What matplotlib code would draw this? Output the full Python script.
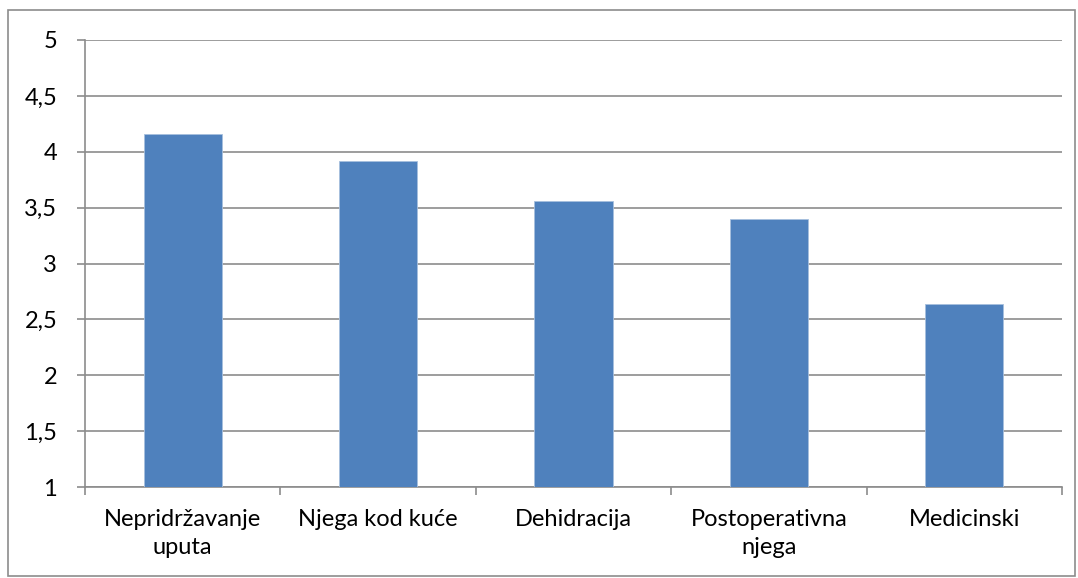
"""Bar chart: average scores per category."""

import matplotlib

matplotlib.use("Agg")
import matplotlib.pyplot as plt
from matplotlib.patches import Rectangle
from matplotlib.ticker import FixedLocator, FuncFormatter

categories = ["Nepridržavanje\nuputa", "Njega kod kuće", "Dehidracija", "Postoperativna\nnjega", "Medicinski"]
values = [4.16, 3.92, 3.56, 3.40, 2.64]
y_ticks = [1, 1.5, 2, 2.5, 3, 3.5, 4, 4.5, 5]

GRID = "#8c8c8c"
BAR = "#4f81bd"

plt.rcParams["font.family"] = ["Lato", "DejaVu Sans"]

fig = plt.figure(figsize=(10.78, 5.78), dpi=100)
fig.patches.append(Rectangle((8 / 1078, 2 / 578), 1067 / 1078, 566 / 578, transform=fig.transFigure,
                             fill=False, edgecolor=GRID, linewidth=1.2))
ax = fig.add_axes([85 / 1078, 1 - 487 / 578, (1062 - 85) / 1078, (487 - 40) / 578])

x = list(range(len(categories)))
ax.bar(x, values, width=0.4, color=BAR, edgecolor="#a7c0de", linewidth=0.6, zorder=3)
ax.set_ylim(1, 5)
ax.set_xlim(-0.5, len(categories) - 0.5)
ax.set_yticks(y_ticks)
ax.yaxis.set_major_formatter(FuncFormatter(lambda v, _: f"{v:g}".replace(".", ",")))
ax.set_xticks(x)
ax.set_xticklabels(categories)
ax.xaxis.set_minor_locator(FixedLocator([i - 0.5 for i in range(len(categories) + 1)]))
ax.tick_params(axis="x", which="major", length=0, pad=16, labelsize=17)
ax.tick_params(axis="x", which="minor", length=6, color=GRID, width=1.2)
ax.tick_params(axis="y", length=6, color=GRID, width=1.2, labelsize=17, pad=14)
ax.grid(axis="y", color=GRID, linewidth=1.2, zorder=0)
for side in ("top", "right"):
    ax.spines[side].set_visible(False)
for side in ("left", "bottom"):
    ax.spines[side].set_color(GRID)
    ax.spines[side].set_linewidth(1.2)
for label in ax.get_xticklabels():
    label.set_linespacing(1.4)

fig.savefig("out.png", dpi=100)
